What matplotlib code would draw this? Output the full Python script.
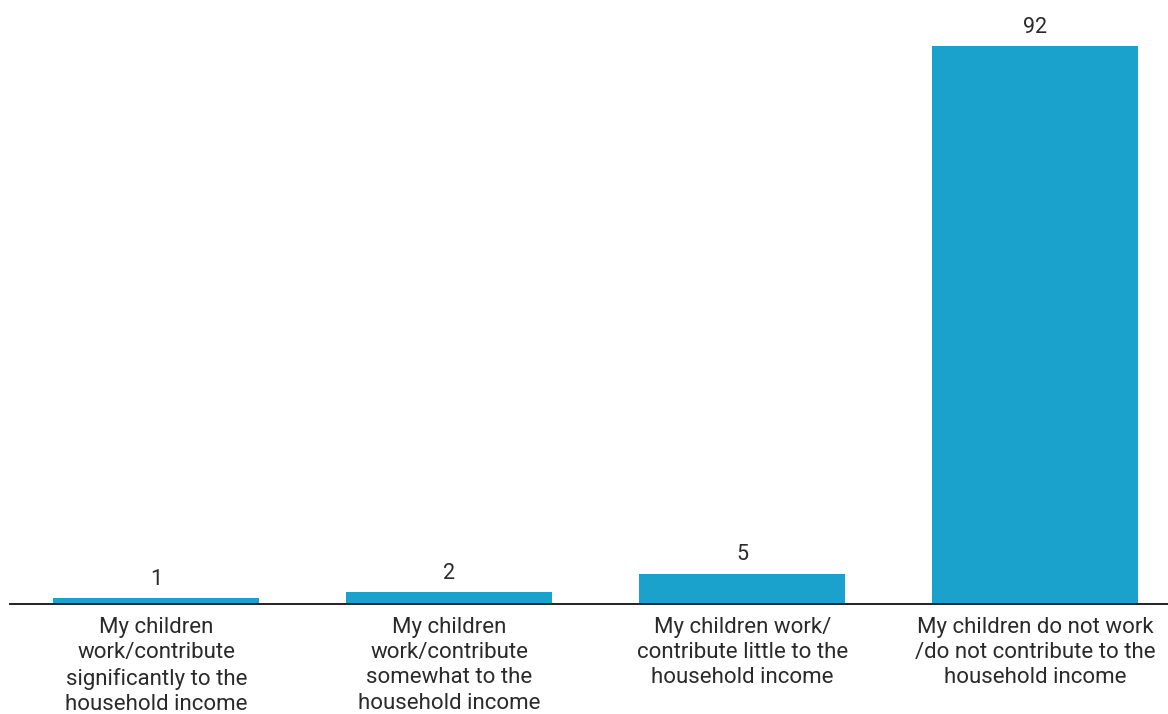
import matplotlib.pyplot as plt

categories = [
    "My children\nwork/contribute\nsignificantly to the\nhousehold income",
    "My children\nwork/contribute\nsomewhat to the\nhousehold income",
    "My children work/\ncontribute little to the\nhousehold income",
    "My children do not work\n/do not contribute to the\nhousehold income",
]
values = [1, 2, 5, 92]

plt.rcParams['font.family'] = ['Roboto', 'DejaVu Sans']

fig = plt.figure(figsize=(11.68, 7.14), dpi=100)
ax = fig.add_axes([10 / 1168, 110 / 714, 1 - 10 / 1168, 604 / 714])

x = range(len(values))
bars = ax.bar(x, values, width=0.703, color='#1aa1cc')

for b, v in zip(bars, values):
    ax.annotate(str(v), (b.get_x() + b.get_width() / 2, v), xytext=(0, 6),
                textcoords='offset points', ha='center', va='bottom',
                fontsize=15.5, color='#2a2a2a')

ax.set_xlim(-0.5, 3.454)
ax.set_ylim(0, 92 * 604 / 558)
ax.set_xticks(list(x))
ax.set_xticklabels(categories, fontsize=16, color='#2a2a2a', linespacing=1.28)
ax.tick_params(axis='x', length=0, pad=9)
ax.set_yticks([])
for s in ['top', 'right', 'left']:
    ax.spines[s].set_visible(False)
ax.spines['bottom'].set_linewidth(1.4)
ax.spines['bottom'].set_color('#222222')

fig.savefig('out.png', dpi=100)
